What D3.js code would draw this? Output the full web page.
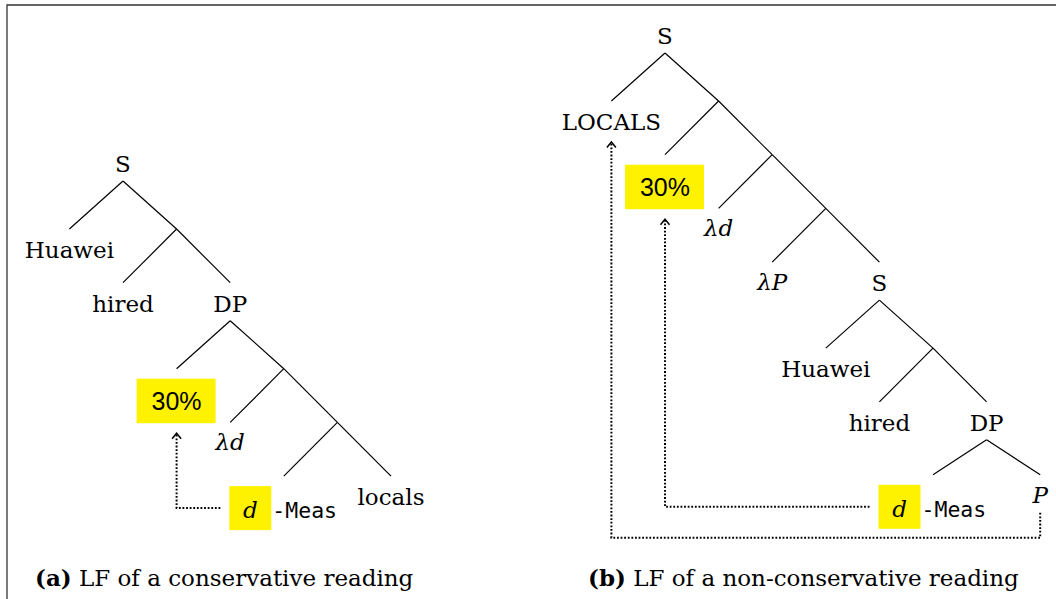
<!DOCTYPE html>
<html>
<head>
<meta charset="utf-8">
<script src="https://cdn.jsdelivr.net/npm/d3@7"></script>
<style>
  html, body { margin: 0; padding: 0; background: #fff; }
  svg { display: block; }
</style>
</head>
<body>
<svg id="chart" width="1056" height="599"></svg>
<script>
// ---------- DATA ----------
// [id, parentId, label, kind]  (children listed left to right)
const treeA = [
  ["a0", "",   "S",      "node"],
  ["a1", "a0", "Huawei", "leaf"],
  ["a2", "a0", "",       "empty"],
  ["a3", "a2", "hired",  "leaf"],
  ["a4", "a2", "DP",     "node"],
  ["a5", "a4", "30%",    "hl"],
  ["a6", "a4", "",       "empty"],
  ["a7", "a6", "λd",     "it"],
  ["a8", "a6", "",       "empty"],
  ["a9", "a8", "d",      "meas"],
  ["a10","a8", "locals", "leaf"]
];
const treeB = [
  ["b0", "",    "S",      "node"],
  ["b1", "b0",  "LOCALS", "leaf"],
  ["b2", "b0",  "",       "empty"],
  ["b3", "b2",  "30%",    "hl"],
  ["b4", "b2",  "",       "empty"],
  ["b5", "b4",  "λd",     "it"],
  ["b6", "b4",  "",       "empty"],
  ["b7", "b6",  "λP",     "it"],
  ["b8", "b6",  "S",      "node"],
  ["b9", "b8",  "Huawei", "leaf"],
  ["b10","b8",  "",       "empty"],
  ["b11","b10", "hired",  "leaf"],
  ["b12","b10", "DP",     "node"],
  ["b13","b12", "d",      "meas"],
  ["b14","b12", "P",      "it"]
];
// movement arrows: [from, to, route]
const movesA = [["a9", "a5", "inner"]];
const movesB = [["b13", "b3", "inner"], ["b14", "b1", "outer"]];
const captions = [["(a)", " LF of a conservative reading"], ["(b)", " LF of a non-conservative reading"]];
const measSuffix = "-Meas";

// ---------- LAYOUT CONSTANTS ----------
const SERIF = "'DejaVu Serif', serif";
const SANS = "'Liberation Sans', Arial, sans-serif";
const MONO = "'DejaVu Sans Mono', monospace";
const FS = 23;
const STEP_X = 53.6, GAP_EMPTY = 53.7, GAP_NODE = 48, NODE_H = 38;
const gapOverride = { b12: 35 };
const YELLOW = "#fff200";

const svg = d3.select("#chart");

// frame
svg.append("path").attr("d", "M7,599 V5 H1056")
  .attr("fill", "none").attr("stroke", "#333").attr("stroke-width", 1.3);

function layout(rows, rootX, rootTop) {
  const root = d3.stratify().id(d => d[0]).parentId(d => d[1] || null)(rows);
  const x = d3.scaleLinear().domain([0, 1]).range([rootX, rootX + STEP_X]);
  root.col = 0; root.ty = rootTop;
  root.eachBefore(n => {
    n.kind = n.data[3]; n.label = n.data[2];
    n.by = n.kind === "node" ? n.ty + NODE_H : n.ty;
    n.x = x(n.col);
    const gap = gapOverride[n.id] != null ? gapOverride[n.id] : (n.kind === "node" ? GAP_NODE : GAP_EMPTY);
    (n.children || []).forEach((c, i) => {
      c.col = n.col + (i === 0 ? -1 : 1);
      c.ty = n.by + gap;
    });
  });
  return root;
}

function drawTree(root, moves) {
  const g = svg.append("g");
  // edges
  g.selectAll("line.edge").data(root.links()).join("line")
    .attr("x1", d => d.source.x).attr("y1", d => d.source.by)
    .attr("x2", d => d.target.x).attr("y2", d => d.target.ty)
    .attr("stroke", "#000").attr("stroke-width", 1.2);

  const nodes = root.descendants();
  const byId = new Map(nodes.map(n => [n.id, n]));

  nodes.forEach(n => {
    if (n.kind === "node" || n.kind === "leaf") {
      g.append("text").attr("x", n.x).attr("y", n.ty + 29)
        .attr("text-anchor", "middle").attr("font-family", SERIF).attr("font-size", FS)
        .text(n.label);
    } else if (n.kind === "it") {
      g.append("text").attr("x", n.x).attr("y", n.ty + 28)
        .attr("text-anchor", "middle").attr("font-family", SERIF).attr("font-size", FS)
        .attr("font-style", "italic").text(n.label);
    } else if (n.kind === "hl") {
      n.box = { x: n.x - 40, y: n.ty + 10, w: 79, h: 44.5 };
      g.append("rect").attr("x", n.box.x).attr("y", n.box.y).attr("width", n.box.w).attr("height", n.box.h)
        .attr("fill", YELLOW);
      g.append("text").attr("x", n.x).attr("y", n.ty + 41)
        .attr("text-anchor", "middle").attr("font-family", SANS).attr("font-size", 25)
        .text(n.label);
    } else if (n.kind === "meas") {
      const boxW = 42, totalW = 105;
      const left = n.x - 2 - totalW / 2;
      n.box = { x: left, y: n.ty + 10, w: boxW, h: 44 };
      g.append("rect").attr("x", n.box.x).attr("y", n.box.y).attr("width", boxW).attr("height", 44)
        .attr("fill", YELLOW);
      g.append("text").attr("x", left + boxW / 2).attr("y", n.ty + 42)
        .attr("text-anchor", "middle").attr("font-family", SERIF).attr("font-size", FS)
        .attr("font-style", "italic").text(n.label);
      g.append("text").attr("x", left + boxW + 1).attr("y", n.ty + 42)
        .attr("font-family", MONO).attr("font-size", 21.5).text(measSuffix);
    }
  });

  // movement arrows
  moves.forEach(([from, to, route]) => {
    const a = byId.get(from), b = byId.get(to);
    const tipY = b.kind === "hl" ? b.box.y + b.box.h + 10 : b.ty + 41;
    let pts;
    if (route === "inner") {
      const y0 = a.box.y + a.box.h / 2;
      pts = [[a.box.x - 9, y0], [b.x, y0], [b.x, tipY + 1]];
    } else {
      const meas = nodes.find(n => n.kind === "meas");
      const yLow = meas.box.y + meas.box.h + 9;
      pts = [[a.x, a.ty + 38], [a.x, yLow], [b.x, yLow], [b.x, tipY + 1]];
    }
    g.append("path").attr("d", d3.line()(pts))
      .attr("fill", "none").attr("stroke", "#000").attr("stroke-width", 2)
      .attr("stroke-dasharray", "1.8 1.8");
    g.append("path").attr("d", d3.line()([[b.x - 4.5, tipY + 5.5], [b.x, tipY], [b.x + 4.5, tipY + 5.5]]))
      .attr("fill", "none").attr("stroke", "#000").attr("stroke-width", 1.5);
  });
}

drawTree(layout(treeA, 123, 143), movesA);
drawTree(layout(treeB, 665, 15), movesB);

// captions
const capX = [35, 588];
captions.forEach((c, i) => {
  const t = svg.append("text").attr("x", capX[i]).attr("y", 586)
    .attr("font-family", SERIF).attr("font-size", FS);
  t.append("tspan").attr("font-weight", "bold").text(c[0]);
  t.append("tspan").text(c[1]);
});
</script>
</body>
</html>
